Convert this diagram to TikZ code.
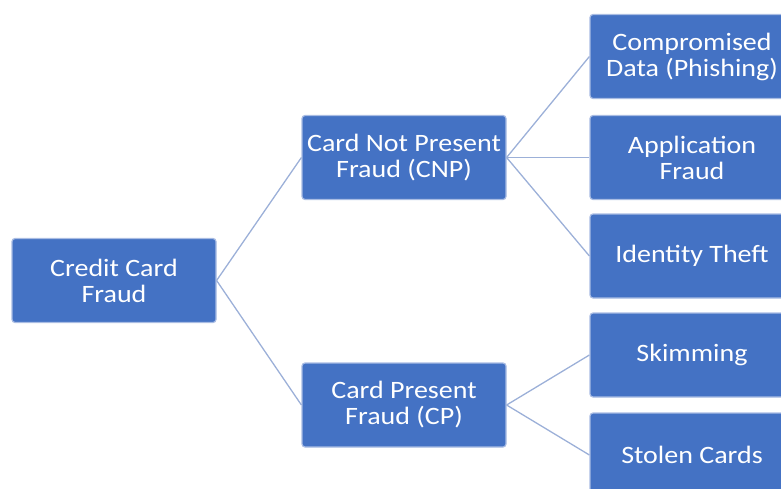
\documentclass[tikz,border=0pt]{standalone}
\usepackage{fontspec}
\setmainfont{Carlito}[FakeStretch=1.12]
\definecolor{cajaazul}{HTML}{4472C4}
\definecolor{bordeazul}{HTML}{A9BCE3}
\definecolor{lineaazul}{HTML}{9CB0D8}
\tikzset{
  caja/.style={draw=bordeazul, line width=1.2pt, fill=cajaazul, rounded corners=3pt,
    minimum width=204pt, minimum height=84pt, text=white, align=center,
    font=\fontsize{25}{26}\selectfont},
  rama/.style={lineaazul, line width=1.3pt}
}
\begin{document}
\begin{tikzpicture}[x=1pt,y=-1pt]
        \useasboundingbox (0,0) rectangle (781,489);
        \clip (0,0) rectangle (781,489);

        % Nodo raiz
        \node[caja] (fraude) at (114,280.5) {Credit Card\\Fraud};

        % Segundo nivel
        \node[caja] (cnp) at (404,157.5) {Card Not Present\\Fraud (CNP)};
        \node[caja] (cp) at (404,405) {Card Present\\Fraud (CP)};

        % Tercer nivel (CNP)
        \node[caja] (phishing) at (692,56.5) {Compromised\\Data (Phishing)};
        \node[caja] (solicitud) at (692,157.5) {Application\\Fraud};
        \node[caja] (identidad) at (692,256) {Identity Theft};

        % Tercer nivel (CP)
        \node[caja] (skimming) at (692,355) {Skimming};
        \node[caja] (robadas) at (692,455) {Stolen Cards};

        % Conectores
        \draw[rama] (fraude.east) -- (cnp.west);
        \draw[rama] (fraude.east) -- (cp.west);
        \foreach \hoja in {phishing,solicitud,identidad}
            \draw[rama] (cnp.east) -- (\hoja.west);
        \foreach \hoja in {skimming,robadas}
            \draw[rama] (cp.east) -- (\hoja.west);
    \end{tikzpicture}
\end{document}
